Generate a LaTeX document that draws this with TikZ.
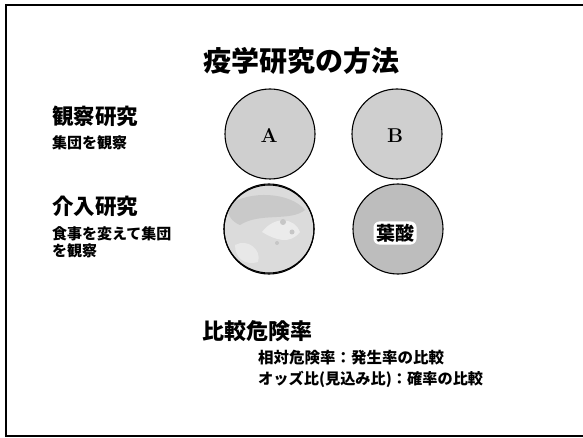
\documentclass[tikz,border=0pt]{standalone}
\usepackage{fontspec}
\newfontfamily\jp{Noto Sans CJK JP}
\begin{document}
\begin{tikzpicture}[x=1pt,y=-1pt,
  dish/.style={circle, draw=black, line width=1.1pt, minimum width=90pt, minimum height=88pt, inner sep=0pt, fill=gray!38},
  jptext/.style={inner sep=0pt, anchor=west, font=\jp\bfseries},
  lettr/.style={inner sep=0pt, font=\fontsize{20}{20}\selectfont\bfseries}
]
\useasboundingbox (0,0) rectangle (583,438);
% frame
\draw[line width=2pt] (583,5) -- (6,5) -- (6,436) -- (583,436);
% title
\node[inner sep=0pt, font=\jp\bfseries\fontsize{28}{28}\selectfont] (title) at (301,61) {疫学研究の方法};
% left labels
\node[jptext, font=\jp\bfseries\fontsize{21.5}{21.5}\selectfont] (obs) at (52,116) {観察研究};
\node[jptext, font=\jp\bfseries\fontsize{15}{15}\selectfont] (obsd) at (52,143) {集団を観察};
\node[jptext, font=\jp\bfseries\fontsize{21.5}{21.5}\selectfont] (int) at (52,206) {介入研究};
\node[jptext, font=\jp\bfseries\fontsize{15}{15}\selectfont] (intd) at (52,234) {食事を変えて集団};
\node[jptext, font=\jp\bfseries\fontsize{15}{15}\selectfont] (intd2) at (52,251) {を観察};
% dishes
\node[dish] (A) at (270,134) {};
\node[lettr] (Alab) at (269,136) {A};
\node[dish] (B) at (397,134) {};
\node[lettr] (Blab) at (395,136) {B};
\node[dish, fill=gray!28] (C) at (269,229) {};
\begin{scope}
  \clip (269,229) circle (44);
  \fill[gray!42] (228,205) .. controls (250,190) and (290,192) .. (305,210) .. controls (290,222) and (260,212) .. (240,225) .. controls (232,222) and (226,214) .. (228,205);
  \fill[gray!16] (262,232) .. controls (275,215) and (295,218) .. (300,232) .. controls (290,245) and (275,240) .. (262,232);
  \fill[gray!18] (235,245) .. controls (248,238) and (262,250) .. (258,262) .. controls (245,266) and (235,258) .. (235,245);
  \fill[gray!45] (283,222) circle (3);
  \fill[gray!45] (292,232) circle (2.5);
  \fill[gray!45] (277,243) circle (2);
\end{scope}
\draw[line width=1.1pt] (C) circle (45 and 44);
\node[dish, fill=gray!52] (D) at (398,229) {};
\node[inner sep=2.5pt, fill=white, rounded corners=6pt, font=\jp\bfseries\fontsize{19}{19}\selectfont] (folate) at (395,233) {葉酸};
% bottom
\node[jptext, font=\jp\bfseries\fontsize{22}{22}\selectfont] (rr) at (202,331) {比較危険率};
\node[jptext, font=\jp\bfseries\fontsize{15.5}{15.5}\selectfont] (rr1) at (258,358) {相対危険率：発生率の比較};
\node[jptext, font=\jp\bfseries\fontsize{15.2}{15.2}\selectfont] (rr2) at (258,379) {オッズ比(見込み比)：確率の比較};
\end{tikzpicture}
\end{document}
